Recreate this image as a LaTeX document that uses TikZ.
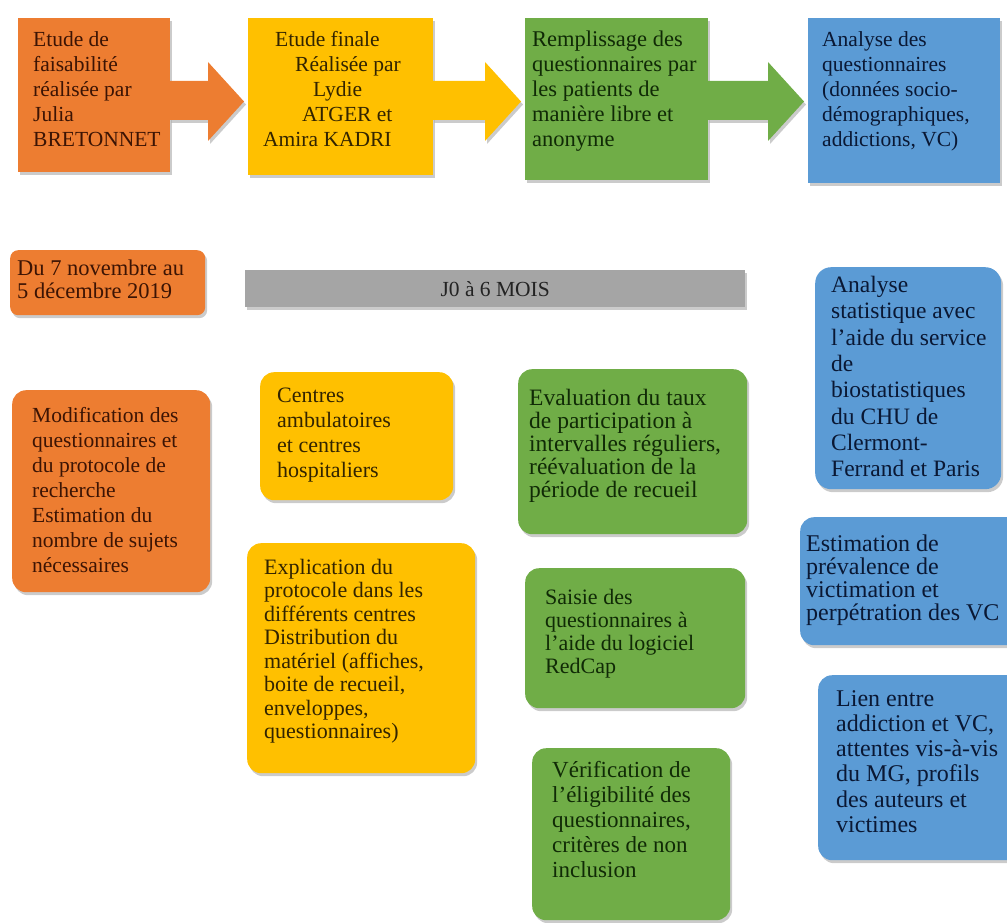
\documentclass[tikz,border=0pt]{standalone}
\usepackage{fontspec}
\setmainfont{Liberation Serif}
\usetikzlibrary{shadows,calc}

% box and text colours
\definecolor{cOrange}{RGB}{237,125,49}
\definecolor{cGold}{RGB}{255,192,0}
\definecolor{cGreen}{RGB}{112,173,71}
\definecolor{cBlue}{RGB}{91,155,213}
\definecolor{cGray}{RGB}{165,165,165}
\definecolor{tOrange}{RGB}{60,20,4}
\definecolor{tGold}{RGB}{50,36,0}
\definecolor{tGreen}{RGB}{16,42,6}
\definecolor{tBlue}{RGB}{10,24,52}
\definecolor{tGray}{RGB}{35,35,35}

\newcommand{\setfs}[2]{\fontsize{#1}{#2}\selectfont}

\tikzset{
  dropsh/.style={drop shadow={shadow xshift=2pt, shadow yshift=-3pt, fill=black!45, opacity=0.45}},
  card/.style={anchor=north west, inner sep=0pt, rounded corners=14pt, dropsh},
  flatcard/.style={anchor=north west, inner sep=0pt, dropsh},
  txt/.style={anchor=north west, inner sep=0pt, align=left, font=\setfs{21.5}{25}}
}

\begin{document}
\begin{tikzpicture}[x=1pt, y=-1pt]
    \useasboundingbox (0,0) rectangle (1007,923);
    \clip (0,0) rectangle (1007,923);

    % levels of the block arrows
    \coordinate (sA) at (0,81);    % shaft top
    \coordinate (sB) at (0,120);   % shaft bottom
    \coordinate (hA) at (0,62);    % head top
    \coordinate (hB) at (0,141);   % head bottom
    \coordinate (tip) at (0,101.5); % head tip

    % top row: the four steps
    \node[flatcard, fill=cOrange, minimum width=152pt, minimum height=154pt] (feas) at (18,18) {};
    \node[flatcard, fill=cGold, minimum width=185pt, minimum height=157pt] (final) at (248,18) {};
    \node[flatcard, fill=cGreen, minimum width=183pt, minimum height=162pt] (remp) at (525,18) {};
    \node[flatcard, fill=cBlue, minimum width=192pt, minimum height=165pt] (anal) at (808,18) {};

    % block arrows between the steps
    \foreach \a/\b/\c in {feas/final/cOrange, final/remp/cGold, remp/anal/cGreen}{
        \fill[\c, dropsh]
            ($(\a.east |- sA)+(-1,0)$) -- ($(\b.west |- sA)+(-40,0)$)
            -- ($(\b.west |- hA)+(-40,0)$) -- ($(\b.west |- tip)+(-4,0)$)
            -- ($(\b.west |- hB)+(-40,0)$) -- ($(\b.west |- sB)+(-40,0)$)
            -- ($(\a.east |- sB)+(-1,0)$) -- cycle;
    }

    \node[txt, text=tOrange] (feas-t) at (33,31) {Etude de\\ faisabilité\\ réalisée par\\ Julia\\ BRETONNET};
    \node[txt, text=tGold] (final-t) at (263,31) {\hspace*{12pt}Etude finale\\ \hspace*{32pt}Réalisée par\\ \hspace*{50pt}Lydie\\ \hspace*{39pt}ATGER et\\ Amira KADRI};
    \node[txt, text=tGreen, font=\setfs{22.5}{25}] (remp-t) at (532,31) {Remplissage des\\ questionnaires par\\ les patients de\\ manière libre et\\ anonyme};
    \node[txt, text=tBlue] (anal-t) at (822,31) {Analyse des\\ questionnaires\\ (données socio-\\ démographiques,\\ addictions, VC)};

    % second row: dates and duration
    \node[card, rounded corners=8pt, fill=cOrange, minimum width=195pt, minimum height=65pt] (date) at (10,250) {};
    \node[txt, text=tOrange, font=\setfs{22.5}{23}] (date-t) at (17,260) {Du 7 novembre au\\ 5 décembre 2019};
    \node[flatcard, fill=cGray, minimum width=500pt, minimum height=37pt] (bar) at (245,270) {};
    \node[text=tGray, inner sep=0pt, font=\setfs{21.5}{22}] (bar-t) at (bar.center) {J0 à 6 MOIS};

    % orange column
    \node[card, fill=cOrange, minimum width=198pt, minimum height=202pt] (modif) at (12,390) {};
    \node[txt, text=tOrange] (modif-t) at (32,407) {Modification des\\ questionnaires et\\ du protocole de\\ recherche\\ Estimation du\\ nombre de sujets\\ nécessaires};

    % yellow column
    \node[card, fill=cGold, minimum width=193pt, minimum height=128pt] (centres) at (260,372) {};
    \node[txt, text=tGold, font=\setfs{22}{25}] (centres-t) at (277,388) {Centres\\ ambulatoires\\ et centres\\ hospitaliers};
    \node[card, fill=cGold, minimum width=228pt, minimum height=230pt] (expl) at (247,543) {};
    \node[txt, text=tGold, font=\setfs{22}{23.5}] (expl-t) at (264,559) {Explication du\\ protocole dans les\\ différents centres\\ Distribution du\\ matériel (affiches,\\ boite de recueil,\\ enveloppes,\\ questionnaires)};

    % green column
    \node[card, fill=cGreen, minimum width=229pt, minimum height=165pt] (eval) at (518,369) {};
    \node[txt, text=tGreen, font=\setfs{23.5}{23}] (eval-t) at (529,389) {Evaluation du taux\\ de participation à\\ intervalles réguliers,\\ réévaluation de la\\ période de recueil};
    \node[card, fill=cGreen, minimum width=220pt, minimum height=140pt] (saisie) at (525,568) {};
    \node[txt, text=tGreen, font=\setfs{22}{23}] (saisie-t) at (545,589) {Saisie des\\ questionnaires à\\ l'aide du logiciel\\ RedCap};
    \node[card, fill=cGreen, minimum width=198pt, minimum height=172pt] (verif) at (532,748) {};
    \node[txt, text=tGreen, font=\setfs{23}{25}] (verif-t) at (552,761) {Vérification de\\ l'éligibilité des\\ questionnaires,\\ critères de non\\ inclusion};

    % blue column
    \node[card, rounded corners=16pt, fill=cBlue, minimum width=186pt, minimum height=222pt] (stats) at (815,267) {};
    \node[txt, text=tBlue, font=\setfs{23.5}{26.3}] (stats-t) at (831,276) {Analyse\\ statistique avec\\ l'aide du service\\ de\\ biostatistiques\\ du CHU de\\ Clermont-\\ Ferrand et Paris};
    \node[card, fill=cBlue, minimum width=230pt, minimum height=128pt] (estim) at (800,517) {};
    \node[txt, text=tBlue, font=\setfs{24}{23}] (estim-t) at (806,535) {Estimation de\\ prévalence de\\ victimation et\\ perpétration des VC};
    \node[card, fill=cBlue, minimum width=215pt, minimum height=185pt] (lien) at (818,675) {};
    \node[txt, text=tBlue, font=\setfs{24}{25.3}] (lien-t) at (836,690) {Lien entre\\ addiction et VC,\\ attentes vis-à-vis\\ du MG, profils\\ des auteurs et\\ victimes};
\end{tikzpicture}
\end{document}
